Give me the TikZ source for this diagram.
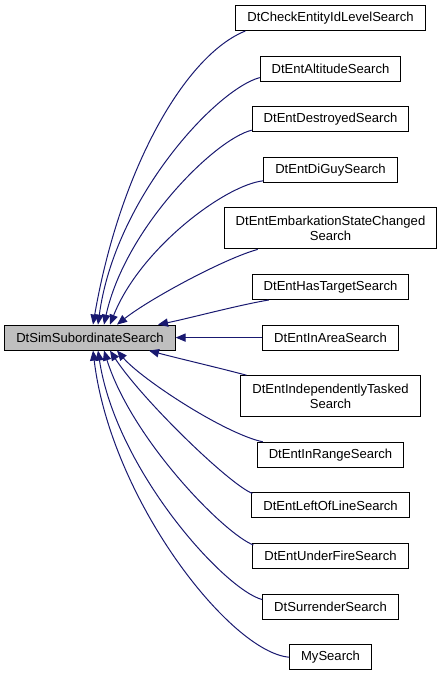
\documentclass[tikz,border=0pt]{standalone}
\usepackage{fontspec}
\setmainfont{Liberation Sans}
\usetikzlibrary{arrows.meta,calc}
\definecolor{edgeblue}{RGB}{25,25,112}
\begin{document}
\begin{tikzpicture}[x=0.75pt, y=-0.75pt,
    cls/.style={draw=black, line width=0.75pt, fill=white, inner xsep=8.6pt, inner ysep=0pt,
        minimum height=18.75pt, font=\fontsize{9.8}{11.25}\selectfont, align=center},
    twoline/.style={cls, minimum height=30.75pt},
    basecls/.style={cls, fill=black!25},
    inh/.style={draw=edgeblue, line width=0.75pt, {Triangle[length=7.5pt,width=6.2pt]}-}]
        \useasboundingbox (0,0) rectangle (443,677);

        % Base class
        \node[basecls] (main) at (90,337.6) {DtSimSubordinateSearch};

        % Derived classes
        \node[cls] (check) at (330.5,18) {DtCheckEntityIdLevelSearch};
        \node[cls] (altitude) at (330.5,68.6) {DtEntAltitudeSearch};
        \node[cls] (destroyed) at (330.5,119.2) {DtEntDestroyedSearch};
        \node[cls] (diguy) at (330.5,169.8) {DtEntDiGuySearch};
        \node[twoline] (embark) at (330.5,228.4) {DtEntEmbarkationStateChanged\\Search};
        \node[cls] (target) at (330.5,287) {DtEntHasTargetSearch};
        \node[cls] (inarea) at (330.5,337.6) {DtEntInAreaSearch};
        \node[twoline] (tasked) at (330.5,396.2) {DtEntIndependentlyTasked\\Search};
        \node[cls] (inrange) at (330.5,454.8) {DtEntInRangeSearch};
        \node[cls] (leftof) at (330.5,505.4) {DtEntLeftOfLineSearch};
        \node[cls] (underfire) at (330.5,556) {DtEntUnderFireSearch};
        \node[cls] (surrender) at (330.5,606.6) {DtSurrenderSearch};
        \node[cls] (mysearch) at (330.5,657.2) {MySearch};

        % Inheritance arrows, upper half
        \draw[inh] ($(main.north)+(3,0)$) .. controls +(27,-156) and +(-60,24) .. ($(check.south west)+(10,0)$);
        \draw[inh] ($(main.north)+(8,0)$) .. controls +(17,-126) and +(-44,12) .. ($(altitude.west)+(0,9)$);
        \draw[inh] ($(main.north)+(14,0)$) .. controls +(21,-96) and +(-37,9) .. ($(destroyed.west)+(0,11)$);
        \draw[inh] ($(main.north)+(20,0)$) .. controls +(30,-76) and +(-38,4) .. ($(diguy.west)+(0,11)$);
        \draw[inh] ($(main.north)+(27,0)$) .. controls +(33,-26) and +(-33,9) .. ($(embark.south west)+(34,0)$);
        \draw[inh] ($(main.north)+(68,0)$) .. controls +(30,-6) and +(-30,5) .. ($(target.south west)+(17,0)$);
        \draw[inh] (main.east) -- (inarea.west);

        % Inheritance arrows, lower half
        \draw[inh] ($(main.south)+(59,0)$) .. controls +(30,8) and +(-30,-8) .. ($(tasked.north west)+(6,0)$);
        \draw[inh] ($(main.south)+(27,0)$) .. controls +(25,29) and +(-38,-8) .. ($(inrange.north west)+(6,0)$);
        \draw[inh] ($(main.south)+(20,0)$) .. controls +(32,49) and +(-23,-9) .. ($(leftof.north west)+(1,1)$);
        \draw[inh] ($(main.south)+(14,0)$) .. controls +(28,89) and +(-29,-11) .. ($(underfire.north west)+(1,2)$);
        \draw[inh] ($(main.south)+(8,0)$) .. controls +(18,119) and +(-38,-10) .. ($(surrender.west)+(0,-7)$);
        \draw[inh] ($(main.south)+(3,0)$) .. controls +(18,149) and +(-59,-5) .. (mysearch.west);
\end{tikzpicture}
\end{document}
